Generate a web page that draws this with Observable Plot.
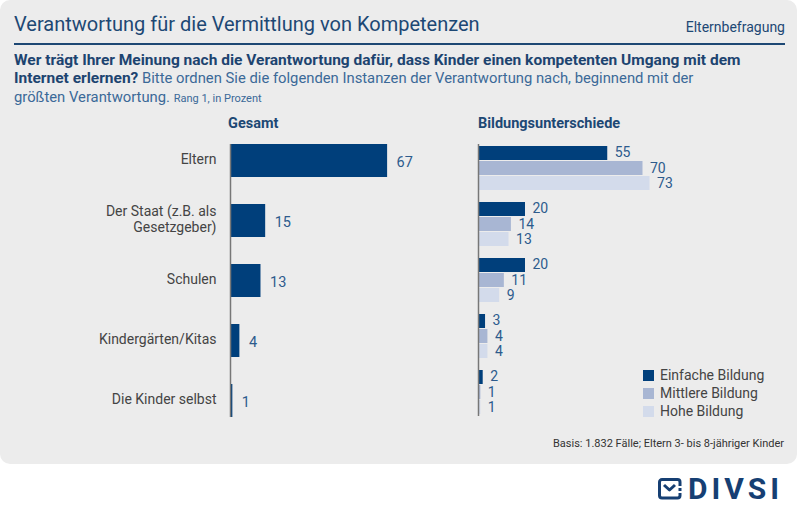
<!DOCTYPE html>
<html>
<head>
<meta charset="utf-8">
<script src="https://cdn.jsdelivr.net/npm/d3@7"></script>
<script src="https://cdn.jsdelivr.net/npm/@observablehq/plot@0.6"></script>
<style>
  html, body { margin: 0; padding: 0; background: #fff; }
  body { width: 800px; height: 515px; position: relative; overflow: hidden; font-family: Roboto, "Liberation Sans", sans-serif; }
  #panel { position: absolute; left: 0; top: 0; width: 797px; height: 464px; background: #ececec; border-radius: 10px; }
  .abs { position: absolute; white-space: nowrap; }
  #title { left: 14px; top: 12px; font-size: 20px; color: #1d4874; }
  #tag { right: 15px; top: 19px; font-size: 14px; color: #1d4874; }
  #hline { left: 14px; top: 43px; width: 771px; height: 1.5px; background: #1d4874; }
  #sub { left: 14px; top: 51px; font-size: 14.8px; line-height: 18.3px; color: #3b6998; }
  #sub b { color: #1d4470; font-size: 15.5px; }
  #sub small { font-size: 11px; }
  .head { font-size: 14.5px; font-weight: bold; color: #1d4874; top: 115px; }
  #legend { left: 643px; top: 366px; font-size: 14px; color: #444; }
  #legend div { height: 18px; display: flex; align-items: center; }
  #legend span { display: inline-block; width: 11px; height: 11px; margin-right: 6px; }
  #basis { right: 16px; top: 437px; font-size: 11px; color: #333; }
  #logo { left: 658px; top: 474px; display: flex; align-items: center; color: #163f73; }
  #logo .t { font-size: 30px; font-weight: bold; letter-spacing: 4px; margin-left: 5px; line-height: 30px; }
  svg.plot { position: absolute; left: 0; top: 0; }
</style>
</head>
<body>
<div id="panel"></div>
<div class="abs" id="title">Verantwortung für die Vermittlung von Kompetenzen</div>
<div class="abs" id="tag">Elternbefragung</div>
<div class="abs" id="hline"></div>
<div class="abs" id="sub"><b>Wer trägt Ihrer Meinung nach die Verantwortung dafür, dass Kinder einen kompetenten Umgang mit dem<br>Internet erlernen?</b> Bitte ordnen Sie die folgenden Instanzen der Verantwortung nach, beginnend mit der<br>größten Verantwortung. <small>Rang 1, in Prozent</small></div>
<div class="abs head" style="left:228px">Gesamt</div>
<div class="abs head" style="left:478px">Bildungsunterschiede</div>
<div id="chartL"></div>
<div id="chartR"></div>
<div class="abs" id="legend"></div>
<div class="abs" id="basis">Basis: 1.832 Fälle; Eltern 3- bis 8-jähriger Kinder</div>
<div class="abs" id="logo">
  <svg width="25" height="22" viewBox="0 0 25 22">
    <path d="M22 8 V4 a2.5 2.5 0 0 0 -2.5 -2.5 H4 a2.5 2.5 0 0 0 -2.5 2.5 V17.5 a2.5 2.5 0 0 0 2.5 2.5 H19.5 a2.5 2.5 0 0 0 2.5 -2.5 V15" fill="none" stroke="#163f73" stroke-width="3"/>
    <path d="M6 7 L11.5 12 L17 7" fill="none" stroke="#163f73" stroke-width="3" stroke-linejoin="round"/>
    <rect x="20.5" y="10" width="3" height="3" fill="#163f73"/>
  </svg>
  <span class="t">DIVSI</span>
</div>
<script>
const categories = ["Eltern", "Der Staat (z.B. als Gesetzgeber)", "Schulen", "Kindergärten/Kitas", "Die Kinder selbst"];
const categoryLabels = ["Eltern", "Der Staat (z.B. als\nGesetzgeber)", "Schulen", "Kindergärten/Kitas", "Die Kinder selbst"];
const gesamt = [67, 15, 13, 4, 1];
const einfache = [55, 20, 20, 3, 2];
const mittlere = [70, 14, 11, 4, 1];
const hohe = [73, 13, 9, 4, 1];
const seriesNames = ["Einfache Bildung", "Mittlere Bildung", "Hohe Bildung"];
const colors = ["#003f7b", "#a8b6d3", "#d3dbeb"];
const valueColor = "#2d5b8c";
const font = "Roboto, 'Liberation Sans', sans-serif";

const rowsL = categories.map((c, i) => ({cat: c, label: categoryLabels[i], v: gesamt[i]}));
const left = Plot.plot({
  width: 470, height: 430,
  marginTop: 144, marginBottom: 13, marginLeft: 230, marginRight: 0,
  x: {domain: [0, 100], range: [230, 464.5], axis: null},
  y: {domain: categories, paddingInner: 0.45, paddingOuter: 0, axis: null},
  style: {fontFamily: font, background: "transparent", overflow: "visible"},
  marks: [
    Plot.barX(rowsL, {x: "v", y: "cat", fill: colors[0]}),
    Plot.ruleX([0], {stroke: "#777", strokeWidth: 1.5}),
    Plot.text(rowsL, {x: "v", y: "cat", text: d => String(d.v), dx: 9, textAnchor: "start", fill: valueColor, fontSize: 14.5, dy: 1}),
    Plot.text(rowsL, {x: 0, y: "cat", text: "label", dx: -14, textAnchor: "end", fill: "#444", fontSize: 14, lineHeight: 1.12, dy: -2})
  ]
});
left.classList.add("plot");
document.getElementById("chartL").appendChild(left);

const rowsR = categories.map((c, i) => ({cat: c, e: einfache[i], m: mittlere[i], h: hohe[i]}));
const right = Plot.plot({
  width: 800, height: 430,
  marginTop: 144, marginBottom: 14, marginLeft: 478, marginRight: 0,
  x: {domain: [0, 100], range: [478, 713], axis: null},
  y: {domain: categories, paddingInner: 0.208, paddingOuter: 0, axis: null},
  style: {fontFamily: font, background: "transparent", overflow: "visible"},
  marks: [
    Plot.barX(rowsR, {x: "e", y: "cat", fill: colors[0], insetBottom: 30}),
    Plot.barX(rowsR, {x: "m", y: "cat", fill: colors[1], insetTop: 15, insetBottom: 15}),
    Plot.barX(rowsR, {x: "h", y: "cat", fill: colors[2], insetTop: 30}),
    Plot.ruleX([0], {stroke: "#777", strokeWidth: 1.5}),
    Plot.text(rowsR, {x: "e", y: "cat", text: d => String(d.e), dx: 7, dy: -16, textAnchor: "start", fill: valueColor, fontSize: 14}),
    Plot.text(rowsR, {x: "m", y: "cat", text: d => String(d.m), dx: 7, dy: 0, textAnchor: "start", fill: valueColor, fontSize: 14}),
    Plot.text(rowsR, {x: "h", y: "cat", text: d => String(d.h), dx: 7, dy: 15, textAnchor: "start", fill: valueColor, fontSize: 14})
  ]
});
right.classList.add("plot");
document.getElementById("chartR").appendChild(right);

const leg = document.getElementById("legend");
seriesNames.forEach((n, i) => {
  const row = document.createElement("div");
  row.innerHTML = `<span style="background:${colors[i]}"></span>${n}`;
  leg.appendChild(row);
});
</script>
</body>
</html>
